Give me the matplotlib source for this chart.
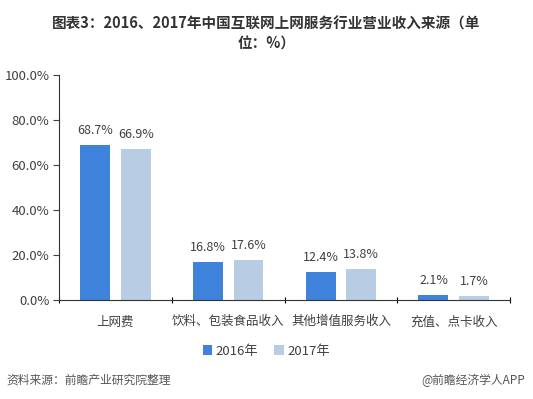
import numpy as np
import matplotlib.pyplot as plt
from matplotlib.ticker import FuncFormatter, FixedLocator

plt.rcParams['font.family'] = ['Noto Sans CJK SC', 'DejaVu Sans']

# data
categories = ["上网费", "饮料、包装食品收入", "其他增值服务收入", "充值、点卡收入"]
v2016 = [68.7, 16.8, 12.4, 2.1]
v2017 = [66.9, 17.6, 13.8, 1.7]
series_names = ["2016年", "2017年"]
yticks = [0, 20, 40, 60, 80, 100]

c2016 = "#3E82DC"
c2017 = "#B8CCE3"
txt = "#404040"

fig = plt.figure(figsize=(5.33, 3.99), dpi=100)
ax = fig.add_axes([0.111, 0.248, 0.846, 0.564])

x = np.arange(len(categories))
w = 0.265
off = 0.18
b1 = ax.bar(x - off, v2016, w, color=c2016, label=series_names[0])
b2 = ax.bar(x + off, v2017, w, color=c2017, label=series_names[1])

for bars, vals in ((b1, v2016), (b2, v2017)):
    for r, v in zip(bars, vals):
        ax.annotate("{0:.1f}%".format(v), (r.get_x() + r.get_width() / 2, v),
                    xytext=(0, 6), textcoords="offset points",
                    ha="center", va="bottom", fontsize=9, color=txt)

ax.set_xlim(-0.5, len(categories) - 0.5)
ax.set_ylim(0, 100)
ax.set_yticks(yticks)
ax.yaxis.set_major_formatter(FuncFormatter(lambda v, p: "{0:.1f}%".format(v)))
ax.tick_params(axis="y", labelsize=9.5, colors=txt, length=4, width=0.8, pad=3)

# category labels centred, ticks at category boundaries
ax.set_xticks(x)
ax.set_xticklabels(categories, fontsize=9, color=txt)
ax.tick_params(axis="x", length=0, pad=11)
ax.xaxis.set_minor_locator(FixedLocator(np.arange(-0.5, len(categories), 1.0)))
ax.tick_params(axis="x", which="minor", length=4, width=0.8, direction="inout")

for s in ["top", "right"]:
    ax.spines[s].set_visible(False)
ax.spines["left"].set_color("#333333")
ax.spines["bottom"].set_color("#333333")
ax.spines["left"].set_linewidth(0.8)
ax.spines["bottom"].set_linewidth(0.8)

fig.legend(handles=[b1, b2], loc="center", bbox_to_anchor=(0.5, 0.12),
           ncol=2, frameon=False, fontsize=9.5, handlelength=0.7,
           handleheight=0.7, handletextpad=0.3, columnspacing=1.2,
           labelcolor=txt)

fig.text(0.5, 0.94, "图表3：2016、2017年中国互联网上网服务行业营业收入来源（单",
         ha="center", va="center", fontsize=10.5, fontweight="bold", color="#333333")
fig.text(0.5, 0.892, "位：%）", ha="center", va="center", fontsize=10.5,
         fontweight="bold", color="#333333")

fig.text(0.012, 0.047, "资料来源：前瞻产业研究院整理", ha="left", va="center",
         fontsize=8.5, color="#555555", style="italic")
fig.text(0.985, 0.047, "@前瞻经济学人APP", ha="right", va="center",
         fontsize=8.5, color="#555555")

fig.savefig("out.png", dpi=100)
